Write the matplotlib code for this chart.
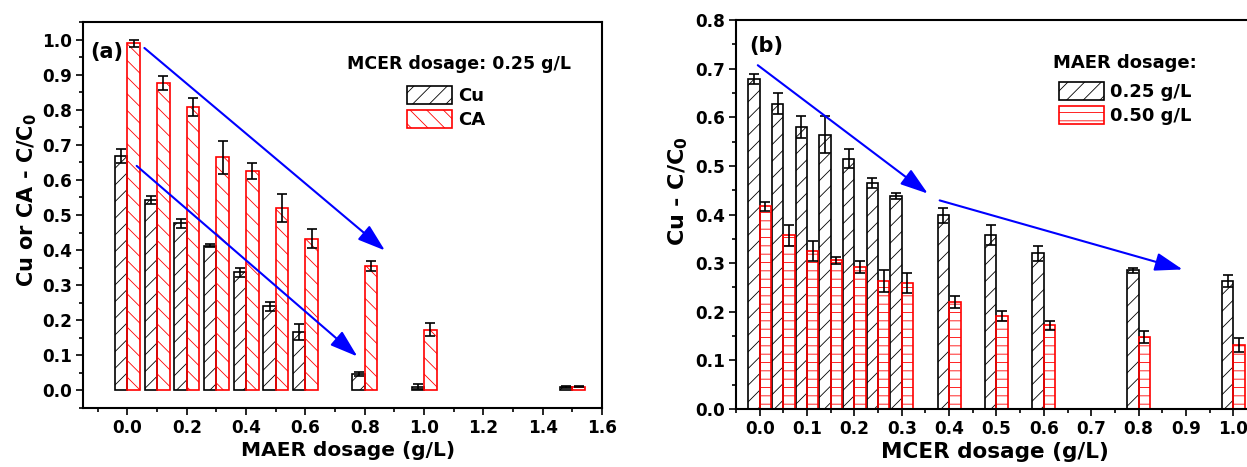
import numpy as np
import matplotlib
matplotlib.use('Agg')
import matplotlib.pyplot as plt
from matplotlib.ticker import MultipleLocator, FormatStrFormatter

plt.rcParams['font.family'] = ['DejaVu Sans']
plt.rcParams['font.weight'] = 'bold'
plt.rcParams['axes.labelweight'] = 'bold'
plt.rcParams['mathtext.default'] = 'bf'
plt.rcParams['hatch.linewidth'] = 0.6
plt.rcParams['axes.linewidth'] = 1.5

# (a) varying MAER dosage, MCER fixed at 0.25 g/L
maer_dose = [0.0, 0.1, 0.2, 0.3, 0.4, 0.5, 0.6, 0.8, 1.0, 1.5]
cu_a = [0.668, 0.542, 0.476, 0.413, 0.337, 0.240, 0.166, 0.047, 0.011, 0.010]
cu_a_err = [0.021, 0.012, 0.012, 0.004, 0.013, 0.013, 0.023, 0.007, 0.007, 0.002]
ca_a = [0.990, 0.876, 0.808, 0.664, 0.626, 0.520, 0.433, 0.354, 0.173, 0.011]
ca_a_err = [0.010, 0.021, 0.025, 0.048, 0.022, 0.040, 0.026, 0.014, 0.019, 0.002]

# (b) varying MCER dosage, two MAER dosages
mcer_dose = [0.0, 0.05, 0.1, 0.15, 0.2, 0.25, 0.3, 0.4, 0.5, 0.6, 0.8, 1.0]
cu_025 = [0.678, 0.628, 0.580, 0.564, 0.515, 0.465, 0.438, 0.398, 0.358, 0.320, 0.285, 0.263]
cu_025_err = [0.010, 0.022, 0.023, 0.038, 0.020, 0.011, 0.006, 0.016, 0.020, 0.015, 0.006, 0.012]
cu_050 = [0.417, 0.357, 0.325, 0.306, 0.292, 0.263, 0.259, 0.220, 0.191, 0.172, 0.148, 0.132]
cu_050_err = [0.009, 0.022, 0.020, 0.007, 0.013, 0.023, 0.021, 0.012, 0.010, 0.009, 0.013, 0.014]

# trend arrows (start, end) in data units
arrows_a = [((0.057, 0.976), (0.868, 0.399)), ((0.031, 0.640), (0.775, 0.097))]
arrows_b = [((-0.004, 0.707), (0.355, 0.443)), ((0.38, 0.429), (0.893, 0.287))]

W, H = 1247, 467
fig = plt.figure(figsize=(W / 100, H / 100), dpi=100)
ax1 = fig.add_axes([83 / W, 59 / H, 519 / W, 386 / H])
ax2 = fig.add_axes([736 / W, 58 / H, 521 / W, 389 / H])

err_kw = dict(ecolor='black', elinewidth=1.2, capsize=3.5, capthick=1.2)
arrow_kw = dict(arrowstyle='-|>,head_length=0.85,head_width=0.28', color='blue',
                lw=1.5, mutation_scale=20, shrinkA=0, shrinkB=0)

# ---- panel (a)
wa = 0.042
b_cu = ax1.bar(maer_dose, cu_a, width=-wa, align='edge', facecolor='none',
               edgecolor='black', hatch='//', lw=1.2, yerr=cu_a_err, error_kw=err_kw)
b_ca = ax1.bar(maer_dose, ca_a, width=wa, align='edge', facecolor='none',
               edgecolor='red', hatch='\\\\', lw=1.2, yerr=ca_a_err, error_kw=err_kw)
for start, end in arrows_a:
    ax1.annotate('', xy=end, xytext=start, arrowprops=arrow_kw)

ax1.set_xlim(-0.15, 1.6)
ax1.set_ylim(-0.05, 1.05)
ax1.xaxis.set_major_locator(MultipleLocator(0.2))
ax1.xaxis.set_minor_locator(MultipleLocator(0.1))
ax1.yaxis.set_major_locator(MultipleLocator(0.1))
ax1.yaxis.set_minor_locator(MultipleLocator(0.05))
ax1.xaxis.set_major_formatter(FormatStrFormatter('%.1f'))
ax1.yaxis.set_major_formatter(FormatStrFormatter('%.1f'))
ax1.text(-0.127, 0.965, '(a)', fontsize=15, va='center', ha='left')
ax1.text(0.741, 0.929, 'MCER dosage: 0.25 g/L', fontsize=12.5, va='center', ha='left')
ax1.legend([b_cu, b_ca], ['Cu', 'CA'], loc='upper left', bbox_to_anchor=(0.942, 0.867),
           bbox_transform=ax1.transData, frameon=False, borderpad=0, borderaxespad=0,
           handlelength=2.5, handleheight=1.15, labelspacing=0.25, handletextpad=0.35,
           fontsize=13)
ax1.set_xlabel('MAER dosage (g/L)', fontsize=14.5)
ax1.set_ylabel('Cu or CA - C/C$_0$', fontsize=15)
ax1.xaxis.set_label_coords(0.51, -0.085)
ax1.yaxis.set_label_coords(-0.085, 0.54)

# ---- panel (b)
wb = 0.024
b_25 = ax2.bar(mcer_dose, cu_025, width=-wb, align='edge', facecolor='none',
               edgecolor='black', hatch='//', lw=1.2, yerr=cu_025_err, error_kw=err_kw)
b_50 = ax2.bar(mcer_dose, cu_050, width=wb, align='edge', facecolor='none',
               edgecolor='red', hatch='--', lw=1.2, yerr=cu_050_err, error_kw=err_kw)
for start, end in arrows_b:
    ax2.annotate('', xy=end, xytext=start, arrowprops=arrow_kw)

ax2.set_xlim(-0.05, 1.05)
ax2.set_ylim(0, 0.8)
ax2.xaxis.set_major_locator(MultipleLocator(0.1))
ax2.xaxis.set_minor_locator(MultipleLocator(0.05))
ax2.yaxis.set_major_locator(MultipleLocator(0.1))
ax2.yaxis.set_minor_locator(MultipleLocator(0.05))
ax2.xaxis.set_major_formatter(FormatStrFormatter('%.1f'))
ax2.yaxis.set_major_formatter(FormatStrFormatter('%.1f'))
ax2.text(-0.021, 0.746, '(b)', fontsize=15, va='center', ha='left')
ax2.text(0.62, 0.712, 'MAER dosage:', fontsize=13, va='center', ha='left')
ax2.legend([b_25, b_50], ['0.25 g/L', '0.50 g/L'], loc='upper left',
           bbox_to_anchor=(0.632, 0.672), bbox_transform=ax2.transData, frameon=False,
           borderpad=0, borderaxespad=0, handlelength=2.5, handleheight=1.15,
           labelspacing=0.25, handletextpad=0.35, fontsize=13)
ax2.set_xlabel('MCER dosage (g/L)', fontsize=15.5)
ax2.set_ylabel('Cu - C/C$_0$', fontsize=16)
ax2.xaxis.set_label_coords(0.497, -0.085)
ax2.yaxis.set_label_coords(-0.088, 0.56)

for ax in (ax1, ax2):
    ax.tick_params(which='major', direction='out', length=5, width=1.2, labelsize=12.2, pad=3)
    ax.tick_params(which='minor', direction='out', length=3, width=1.2)

fig.savefig('out.png', dpi=100)
